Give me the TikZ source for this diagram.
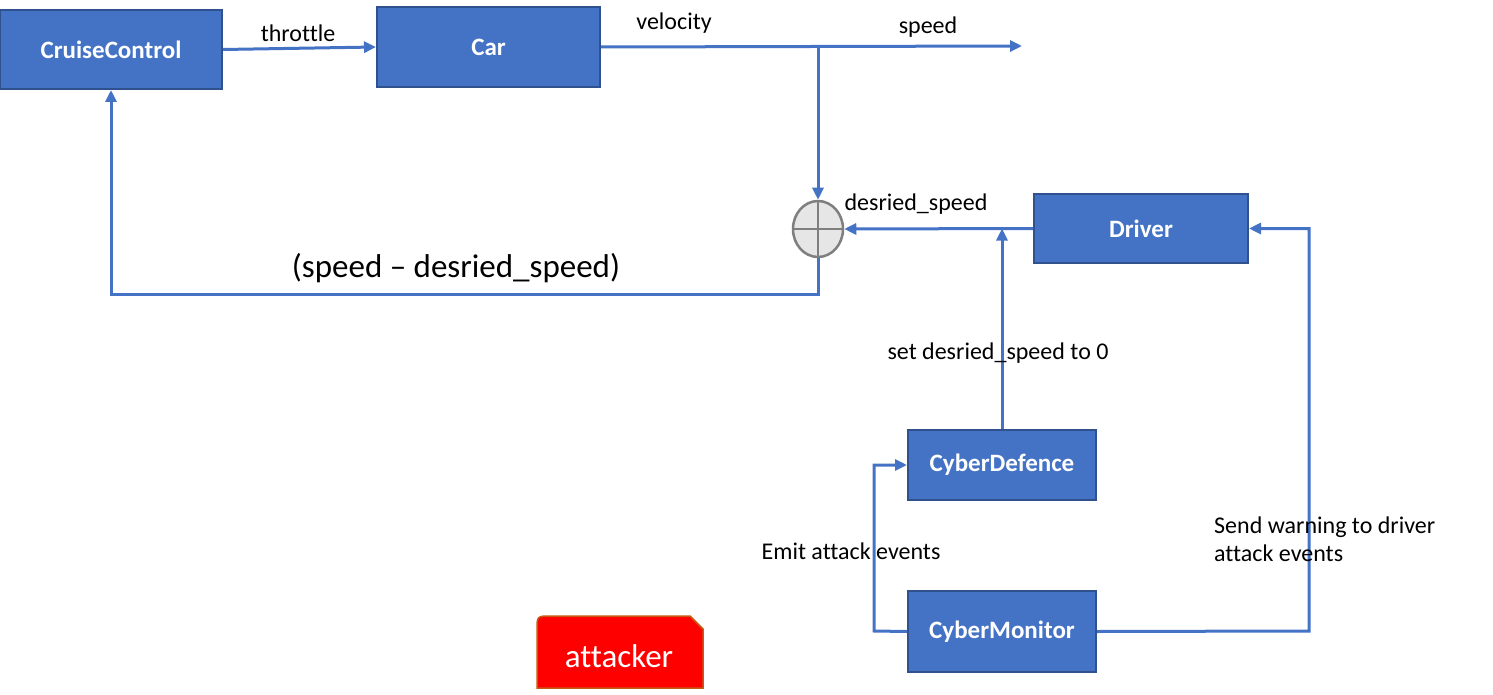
\documentclass[tikz,border=0pt]{standalone}
\usepackage{fontspec}
\setmainfont{Carlito}[Ligatures=CommonOff]
\usetikzlibrary{arrows.meta,shapes.geometric}
\definecolor{boxblue}{HTML}{4472C4}
\definecolor{boxedge}{HTML}{2F528F}
\definecolor{sumgray}{HTML}{E7E6E6}
\definecolor{sumedge}{HTML}{7F7F7F}
\definecolor{attackedge}{HTML}{C55A11}
\tikzset{
  block/.style={draw=boxedge,line width=2pt,fill=boxblue,text=white,
    font=\fontsize{25}{29}\selectfont\bfseries,inner sep=0pt},
  lbl/.style={font=\fontsize{24}{28}\selectfont,inner sep=0pt},
  wire/.style={draw=boxblue,line width=3pt},
  flow/.style={wire,-{Triangle[length=12pt,width=11pt]}},
}
\begin{document}
\begin{tikzpicture}[x=1pt,y=-1pt]
  \useasboundingbox (0,0) rectangle (1493,695);
  % blocks
  \draw
    (111,49.5) node[block,minimum width=222pt,minimum height=79pt] (cc){CruiseControl}
    (488.5,47) node[block,minimum width=223pt,minimum height=80pt] (car){Car}
    (1141,228.5) node[block,minimum width=214pt,minimum height=69pt] (drv){Driver}
    (1002,465) node[block,minimum width=188pt,minimum height=70pt] (cd){CyberDefence}
    (1002,631.5) node[block,minimum width=188pt,minimum height=81pt] (cm){CyberMonitor};
  \node[shape=ellipse,draw=sumedge,line width=2.5pt,fill=sumgray,inner sep=0pt,
    minimum width=50pt,minimum height=56pt] (sum) at (818,229) {};
  \draw[sumedge,line width=2.5pt] (sum.north) -- (sum.south) (sum.west) -- (sum.east);
  % attacker
  \filldraw[fill=red,draw=attackedge,line width=1.5pt]
    (537,688) -- (537,630) .. controls (537,616) .. (551,616) -- (690,616)
    -- (703,629) -- (703,688) -- cycle;
  \node[text=white,font=\fontsize{33}{38}\selectfont,inner sep=0pt] (attacker) at (619,656) {attacker};
  % junctions
  \coordinate (split) at (818,46);
  \coordinate (out) at (1022,46);
  \coordinate (fb) at (818,294);
  \coordinate (emit) at (874,631);
  \coordinate (warn) at (1309,631);
  % connectors
  \begin{scope}[flow]
    \draw (cc.east) to (car.west);
    \draw (car.east) to (out);
    \draw (split) to (sum.north);
    \draw (drv.west) to (sum.east);
    \draw (cd.north) to (cd.north |- drv.west);
    \draw (sum.south) -- (fb) -| (cc.south);
    \draw (cm.west) -- (emit) |- (cd.west);
    \draw (cm.east) -- (warn) |- (drv.east);
  \end{scope}
  % labels
  \node[lbl] (lthrottle) at (298,33) {throttle};
  \node[lbl] (lvelocity) at (674,23) {velocity};
  \node[lbl] (lspeed) at (928,27) {speed};
  \node[lbl] (ldesired) at (916,204) {desried\_speed};
  \node[lbl] (lset) at (998,353) {set desried\_speed to 0};
  \node[lbl,font=\fontsize{33}{38}\selectfont] (lerror) at (456,268) {(speed – desried\_speed)};
  \node[lbl] (lemit) at (851,551) {Emit attack events};
  \node[lbl,anchor=west,align=left,font=\fontsize{24}{28}\selectfont] (lwarn) at (1214,539)
    {Send warning to driver\\attack events};
\end{tikzpicture}
\end{document}
